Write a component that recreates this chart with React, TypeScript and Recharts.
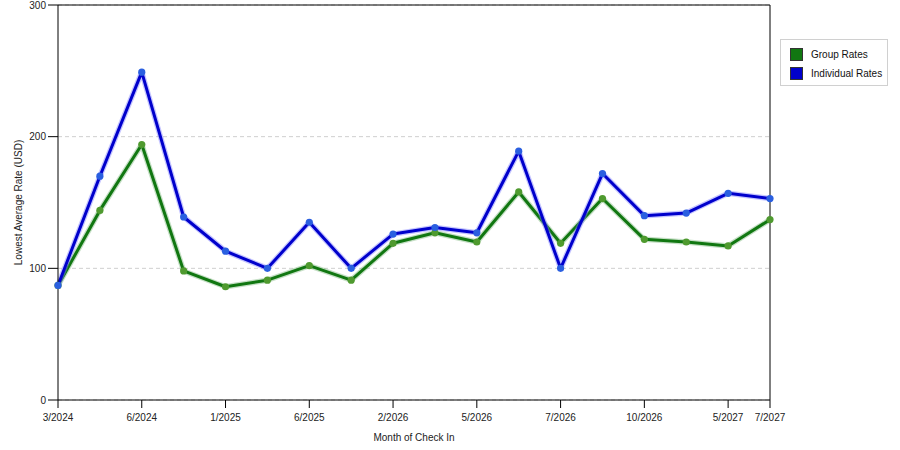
import React from 'react';
import { LineChart, Line, XAxis, YAxis, CartesianGrid, ReferenceLine } from 'recharts';

const tickIdx = [0, 2, 4, 6, 8, 10, 12, 14, 16, 17];
const tickLabels = ['3/2024', '6/2024', '1/2025', '6/2025', '2/2026', '5/2026', '7/2026', '10/2026', '5/2027', '7/2027'];

const groupRates = [87, 144, 194, 98, 86, 91, 102, 91, 119, 127, 120, 158, 119, 153, 122, 120, 117, 137];
const individualRates = [87, 170, 249, 139, 113, 100, 135, 100, 126, 131, 127, 189, 100, 172, 140, 142, 157, 153];

const yTicks = [0, 100, 200, 300];

const GREEN = '#117711';
const BLUE = '#0000cc';

const data = groupRates.map((g, i) => ({ idx: i, group: g, individual: individualRates[i] }));

const font = 'Arial, "Liberation Sans", sans-serif';

const legendItems = [
  { name: 'Group Rates', color: GREEN },
  { name: 'Individual Rates', color: BLUE },
];

const LegendBox = () => (
  <div
    style={{
      position: 'absolute',
      left: 780,
      top: 39,
      width: 108,
      height: 47,
      boxSizing: 'border-box',
      border: '1px solid #d0d0d0',
      padding: '5px 0 0 9px',
      fontFamily: font,
      fontSize: 10,
      color: '#111',
      background: '#fff',
      whiteSpace: 'nowrap',
    }}
  >
    {legendItems.map((item) => (
      <div key={item.name} style={{ display: 'flex', alignItems: 'center', height: 19 }}>
        <span
          style={{
            display: 'inline-block',
            width: 11,
            height: 11,
            background: item.color,
            border: '1px solid #333',
            marginRight: 8,
          }}
        />
        {item.name}
      </div>
    ))}
  </div>
);

const makeDot = (fill: string) => (props: any) => {
  const { cx, cy, index } = props;
  if (cx == null || cy == null) return <g key={index} />;
  return <circle key={index} cx={cx} cy={cy} r={3.6} fill={fill} stroke="none" />;
};

export default function App() {
  return (
    <div style={{ position: 'absolute', left: 0, top: 0, width: 900, height: 450, background: '#fff' }}>
      <LineChart width={900} height={450} data={data} margin={{ top: 5, right: 130, bottom: 0, left: 0 }}>
        <CartesianGrid vertical={false} stroke="#cfcfcf" strokeDasharray="4 3" />
        <XAxis
          dataKey="idx"
          type="number"
          domain={[0, 17]}
          ticks={tickIdx}
          tickFormatter={(v: number) => tickLabels[tickIdx.indexOf(v)] ?? ''}
          interval={0}
          height={50}
          tickSize={8}
          tickMargin={6}
          stroke="#000"
          tick={{ fill: '#222', fontSize: 10, fontFamily: font }}
          label={{ value: 'Month of Check In', position: 'insideBottom', offset: 9, style: { fill: '#222', fontSize: 10, fontFamily: font } }}
        />
        <YAxis
          domain={[0, 300]}
          ticks={yTicks}
          width={58}
          tickSize={10}
          tickMargin={2}
          stroke="#000"
          tick={{ fill: '#222', fontSize: 10, fontFamily: font }}
          label={{
            value: 'Lowest Average Rate (USD)',
            angle: -90,
            position: 'insideLeft',
            offset: 18,
            style: { fill: '#222', fontSize: 10, fontFamily: font, textAnchor: 'middle' },
          }}
        />
        <ReferenceLine y={300} stroke="#000" />
        <ReferenceLine x={17} stroke="#000" />
        <Line dataKey="group" stroke="#7fb97f" strokeWidth={5.5} strokeOpacity={0.45} strokeLinejoin="round" dot={false} activeDot={false} isAnimationActive={false} />
        <Line dataKey="group" stroke={GREEN} strokeWidth={3} strokeLinejoin="round" dot={makeDot('#4f9a2f')} activeDot={false} isAnimationActive={false} />
        <Line dataKey="individual" stroke="#7f7fff" strokeWidth={5.5} strokeOpacity={0.45} strokeLinejoin="round" dot={false} activeDot={false} isAnimationActive={false} />
        <Line dataKey="individual" stroke={BLUE} strokeWidth={3} strokeLinejoin="round" dot={makeDot('#2a5fe0')} activeDot={false} isAnimationActive={false} />
      </LineChart>
      <LegendBox />
    </div>
  );
}
